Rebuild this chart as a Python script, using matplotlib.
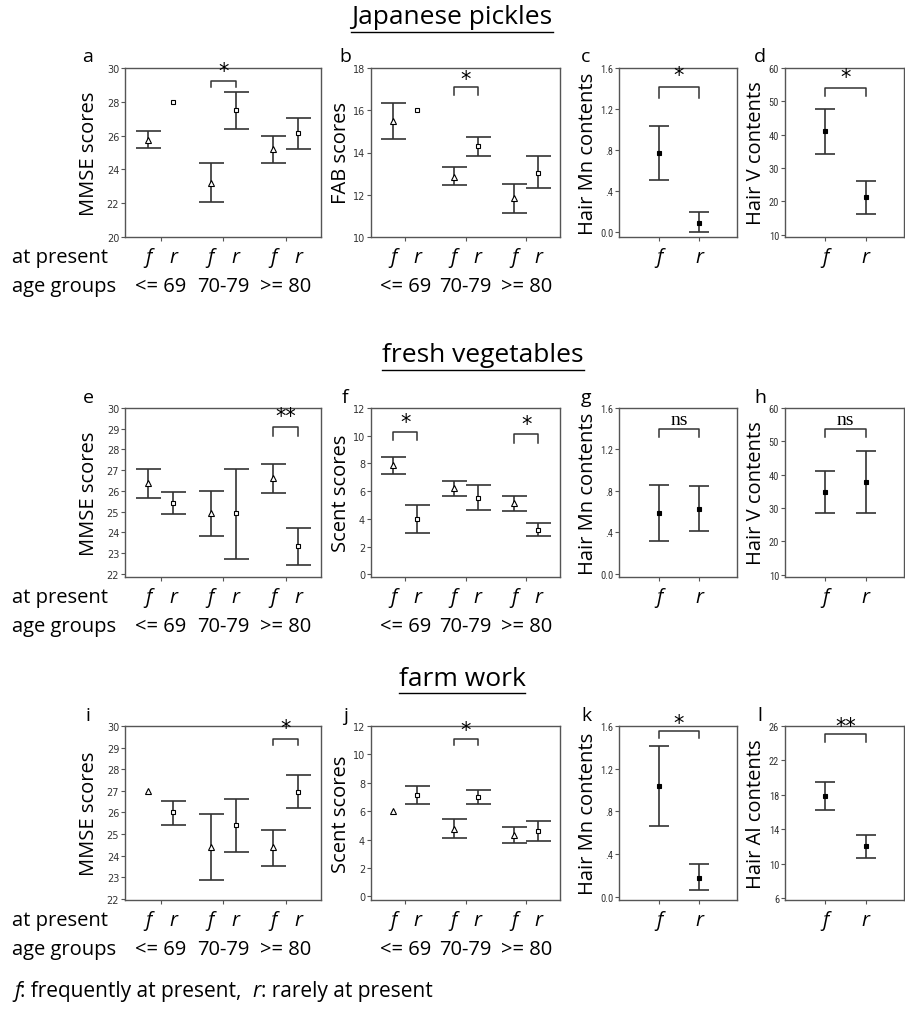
import numpy as np
import matplotlib
matplotlib.use('Agg')
import matplotlib.pyplot as plt
from matplotlib import transforms, font_manager

W, H = 905, 1012
plt.rcParams['font.family'] = ['Open Sans', 'DejaVu Sans']

# ---------------- data ----------------
age_groups = ['<= 69', '70-79', '>= 80']
habit = ['f', 'r']

# a  Japanese pickles / MMSE
pk_mmse_f = [25.75, 23.2, 25.2]
pk_mmse_f_lo = [25.25, 22.05, 24.35]
pk_mmse_f_hi = [26.25, 24.35, 26.0]
pk_mmse_r = [28.0, 27.5, 26.15]
pk_mmse_r_lo = [np.nan, 26.4, 25.2]
pk_mmse_r_hi = [np.nan, 28.6, 27.05]

# b  Japanese pickles / FAB
pk_fab_f = [15.5, 12.85, 11.85]
pk_fab_f_lo = [14.65, 12.45, 11.15]
pk_fab_f_hi = [16.35, 13.3, 12.5]
pk_fab_r = [16.0, 14.3, 13.05]
pk_fab_r_lo = [np.nan, 13.85, 12.3]
pk_fab_r_hi = [np.nan, 14.72, 13.82]

# c  Japanese pickles / hair Mn
pk_mn = [0.77, 0.09]
pk_mn_lo = [0.505, -0.005]
pk_mn_hi = [1.035, 0.19]

# d  Japanese pickles / hair V
pk_v = [41.1, 21.2]
pk_v_lo = [34.2, 16.3]
pk_v_hi = [47.7, 26.0]

# e  fresh vegetables / MMSE
fv_mmse_f = [26.38, 24.92, 26.64]
fv_mmse_f_lo = [25.65, 23.83, 25.89]
fv_mmse_f_hi = [27.05, 25.99, 27.32]
fv_mmse_r = [25.42, 24.92, 23.35]
fv_mmse_r_lo = [24.9, 22.74, 22.44]
fv_mmse_r_hi = [25.93, 27.06, 24.19]

# f  fresh vegetables / scent
fv_scent_f = [7.9, 6.26, 5.13]
fv_scent_f_lo = [7.25, 5.62, 4.54]
fv_scent_f_hi = [8.45, 6.73, 5.67]
fv_scent_r = [4.0, 5.53, 3.2]
fv_scent_r_lo = [3.0, 4.66, 2.75]
fv_scent_r_hi = [5.0, 6.42, 3.69]

# g  fresh vegetables / hair Mn
fv_mn = [0.59, 0.625]
fv_mn_lo = [0.32, 0.41]
fv_mn_hi = [0.86, 0.845]

# h  fresh vegetables / hair V
fv_v = [34.8, 37.8]
fv_v_lo = [28.6, 28.6]
fv_v_hi = [41.0, 47.0]

# i  farm work / MMSE
fw_mmse_f = [27.0, 24.4, 24.4]
fw_mmse_f_lo = [np.nan, 22.86, 23.52]
fw_mmse_f_hi = [np.nan, 25.92, 25.17]
fw_mmse_r = [26.0, 25.4, 26.94]
fw_mmse_r_lo = [25.42, 24.18, 26.2]
fw_mmse_r_hi = [26.54, 26.6, 27.71]

# j  farm work / scent
fw_scent_f = [6.0, 4.78, 4.34]
fw_scent_f_lo = [np.nan, 4.09, 3.79]
fw_scent_f_hi = [np.nan, 5.42, 4.87]
fw_scent_r = [7.13, 6.99, 4.6]
fw_scent_r_lo = [6.5, 6.48, 3.91]
fw_scent_r_hi = [7.77, 7.47, 5.29]

# k  farm work / hair Mn
fw_mn = [1.037, 0.18]
fw_mn_lo = [0.662, 0.068]
fw_mn_hi = [1.415, 0.308]

# l  farm work / hair Al
fw_al = [17.9, 12.08]
fw_al_lo = [16.3, 10.72]
fw_al_hi = [19.5, 13.4]

# ---------------- layout (pixels) ----------------
cols = [(125, 321), (371, 560), (619, 737), (785, 904)]
rows = [(69, 238), (409, 578), (727, 901)]
ylab_x = [89, 341, 588, 756]
letter_x = [88, 345, 586, 760]
letter_y = [57, 398, 716]
titles = [('Japanese pickles', 452, 18), ('fresh vegetables', 483, 356), ('farm work', 462, 679)]

EC = '#333333'

# narrow face for the SPSS-like tick labels of the hair panels
_have = {f.name for f in font_manager.fontManager.ttflist}
NARROW = [n for n in ['Liberation Sans Narrow', 'Roboto Condensed',
                      'Open Sans Condensed', 'DejaVu Sans Condensed']
          if n in _have] + ['DejaVu Sans']
NARROW_SIZE = 7.5 if NARROW[0] != 'DejaVu Sans' else 6.5

fig = plt.figure(figsize=(W / 100, H / 100), dpi=100)


def make_ax(ci, ri):
    x0, x1 = cols[ci]
    y0, y1 = rows[ri]
    ax = fig.add_axes([x0 / W, 1 - y1 / H, (x1 - x0) / W, (y1 - y0) / H])
    for s in ax.spines.values():
        s.set_color('#555555')
        s.set_linewidth(1.0)
    ax.tick_params(axis='both', length=3, width=0.8, color='#555555',
                   labelsize=7, labelcolor='#333333', pad=1.2)
    return ax


def below(ax, x, text, dy, **kw):
    tr = transforms.blended_transform_factory(ax.transData, ax.transAxes)
    tr = tr + transforms.ScaledTranslation(0, -dy / 100, fig.dpi_scale_trans)
    ax.text(x, 0, text, transform=tr, ha='center', va='center',
            clip_on=False, **kw)


def bars(ax, x, mean, lo, hi, marker, mfc, ms, cap):
    x = np.asarray(x, float)
    mean = np.asarray(mean, float)
    lo = np.asarray(lo, float)
    hi = np.asarray(hi, float)
    m = np.isfinite(lo)
    ax.errorbar(x[m], mean[m], yerr=[mean[m] - lo[m], hi[m] - mean[m]],
                fmt='none', ecolor=EC, elinewidth=1.2, capsize=cap,
                capthick=1.2, zorder=2)
    ax.plot(x, mean, ls='none', marker=marker, mfc=mfc, mec='black',
            mew=0.8, ms=ms, zorder=3)


def bracket(ax, x1, x2, top, drop, label, ly, serif=False):
    ax.plot([x1, x1, x2, x2], [drop, top, top, drop], color='#333333',
            lw=1.1, clip_on=False)
    if serif:
        ax.text((x1 + x2) / 2, ly, label, ha='center', va='center',
                fontsize=14, family=['Liberation Serif'], clip_on=False)
    else:
        ax.text((x1 + x2) / 2, ly, label, ha='center', va='center',
                fontsize=15, family=['DejaVu Sans'], clip_on=False)


def ylabel_text(ci, ri, text):
    fig.text(ylab_x[ci] / W, 1 - (rows[ri][0] + rows[ri][1]) / 2 / H, text,
             rotation=90, ha='center', va='center', fontsize=14.5)


def group_panel(ci, ri, f, f_lo, f_hi, r, r_lo, r_hi, ylim, yticks,
                ylabel, brks):
    ax = make_ax(ci, ri)
    g = np.arange(1, 4)
    xf, xr = g - 0.2, g + 0.2
    bars(ax, xf, f, f_lo, f_hi, '^', 'white', 4.5, 9)
    bars(ax, xr, r, r_lo, r_hi, 's', 'white', 3.5, 9)
    ax.set_xlim(0.43, 3.56)
    ax.set_ylim(*ylim)
    ax.set_yticks(yticks)
    ax.set_xticks(g)
    ax.set_xticklabels([])
    for lab in ax.get_yticklabels():
        lab.set_family(['DejaVu Sans'])
    for gi, top, drop, label, ly in brks:
        bracket(ax, xf[gi], xr[gi], top, drop, label, ly)
    for i in range(3):
        below(ax, xf[i], habit[0], 20, fontsize=14.5, style='italic')
        below(ax, xr[i], habit[1], 20, fontsize=14.5, style='italic')
        below(ax, g[i], age_groups[i], 49, fontsize=14.5)
    ylabel_text(ci, ri, ylabel)
    return ax


def pair_panel(ci, ri, mean, lo, hi, ylim, yticks, yticklabels, ylabel,
               brk, serif=False):
    ax = make_ax(ci, ri)
    x = np.arange(1, 3)
    bars(ax, x, mean, lo, hi, 's', 'black', 3.5, 7.5)
    ax.set_xlim(0.0, 2.95)
    ax.set_ylim(*ylim)
    ax.set_yticks(yticks)
    ax.set_yticklabels(yticklabels, family=NARROW, fontsize=NARROW_SIZE)
    ax.set_xticks(x)
    ax.set_xticklabels([])
    top, drop, label, ly = brk
    bracket(ax, x[0], x[1], top, drop, label, ly, serif=serif)
    for i in range(2):
        below(ax, x[i], habit[i], 20, fontsize=14.5, style='italic')
    ylabel_text(ci, ri, ylabel)
    return ax


mn_ticks = [0.0, 0.4, 0.8, 1.2, 1.6]
mn_labels = ['0.0', '.4', '.8', '1.2', '1.6']
v_ticks = [10, 20, 30, 40, 50, 60]

# row 1
group_panel(0, 0, pk_mmse_f, pk_mmse_f_lo, pk_mmse_f_hi,
            pk_mmse_r, pk_mmse_r_lo, pk_mmse_r_hi,
            (20, 30), range(20, 31, 2), 'MMSE scores',
            [(1, 29.25, 28.9, '*', 29.8)])
group_panel(1, 0, pk_fab_f, pk_fab_f_lo, pk_fab_f_hi,
            pk_fab_r, pk_fab_r_lo, pk_fab_r_hi,
            (10, 18), range(10, 19, 2), 'FAB scores',
            [(1, 17.1, 16.7, '*', 17.5)])
pair_panel(2, 0, pk_mn, pk_mn_lo, pk_mn_hi, (-0.05, 1.6), mn_ticks,
           mn_labels, 'Hair Mn contents', (1.41, 1.31, '*', 1.53))
pair_panel(3, 0, pk_v, pk_v_lo, pk_v_hi, (9.3, 60), v_ticks,
           [str(v) for v in v_ticks], 'Hair V contents', (54.1, 51.6, '*', 57.3))

# row 2
group_panel(0, 1, fv_mmse_f, fv_mmse_f_lo, fv_mmse_f_hi,
            fv_mmse_r, fv_mmse_r_lo, fv_mmse_r_hi,
            (21.85, 30), range(22, 31), 'MMSE scores',
            [(2, 29.1, 28.67, '**', 29.6)])
group_panel(1, 1, fv_scent_f, fv_scent_f_lo, fv_scent_f_hi,
            fv_scent_r, fv_scent_r_lo, fv_scent_r_hi,
            (-0.2, 12), range(0, 13, 2), 'Scent scores',
            [(0, 10.26, 9.67, '*', 11.0), (2, 10.1, 9.48, '*', 10.85)])
pair_panel(2, 1, fv_mn, fv_mn_lo, fv_mn_hi, (-0.03, 1.6), mn_ticks,
           mn_labels, 'Hair Mn contents', (1.394, 1.32, 'ns', 1.49), serif=True)
pair_panel(3, 1, fv_v, fv_v_lo, fv_v_hi, (9.3, 60), v_ticks,
           [str(v) for v in v_ticks], 'Hair V contents',
           (53.6, 51.3, 'ns', 56.6), serif=True)

# row 3
group_panel(0, 2, fw_mmse_f, fw_mmse_f_lo, fw_mmse_f_hi,
            fw_mmse_r, fw_mmse_r_lo, fw_mmse_r_hi,
            (21.95, 30), range(22, 31), 'MMSE scores',
            [(2, 29.4, 29.1, '*', 29.9)])
group_panel(1, 2, fw_scent_f, fw_scent_f_lo, fw_scent_f_hi,
            fw_scent_r, fw_scent_r_lo, fw_scent_r_hi,
            (-0.25, 12), range(0, 13, 2), 'Scent scores',
            [(1, 11.06, 10.64, '*', 11.7)])
pair_panel(2, 2, fw_mn, fw_mn_lo, fw_mn_hi, (-0.03, 1.6), mn_ticks,
           mn_labels, 'Hair Mn contents', (1.554, 1.49, '*', 1.63))
pair_panel(3, 2, fw_al, fw_al_lo, fw_al_hi, (5.8, 26), [6, 10, 14, 18, 22, 26],
           ['6', '10', '14', '18', '22', '26'], 'Hair Al contents',
           (25.05, 24.2, '**', 26.0))

# panel letters
letters = 'abcdefghijkl'
for ri in range(3):
    for ci in range(4):
        fig.text(letter_x[ci] / W, 1 - letter_y[ri] / H, letters[ri * 4 + ci],
                 ha='center', va='center', fontsize=14)

# row headers on the left
for ri in range(3):
    yb = rows[ri][1]
    fig.text(12 / W, 1 - (yb + 20) / H, 'at present', ha='left',
             va='center', fontsize=14.5)
    fig.text(12 / W, 1 - (yb + 49) / H, 'age groups', ha='left',
             va='center', fontsize=14.5)

# underlined section titles
renderer = fig.canvas.get_renderer()
for txt, cx, cy in titles:
    t = fig.text(cx / W, 1 - cy / H, txt, ha='center', va='center',
                 fontsize=19)
    bb = t.get_window_extent(renderer)
    fig.add_artist(plt.Line2D([bb.x0 / W, bb.x1 / W],
                              [1 - (cy + 15) / H, 1 - (cy + 15) / H],
                              color='black', lw=1.0))

# footnote with italic f and r
x = 14
runs = [('f', 'italic'), (': frequently at present,  ', 'normal'),
        ('r', 'italic'), (': rarely at present', 'normal')]
for s, st in runs:
    t = fig.text(x / W, 1 - 992 / H, s, ha='left', va='center',
                 fontsize=15, style=st)
    bb = t.get_window_extent(renderer)
    x += bb.width

fig.savefig('out.png', dpi=100)
